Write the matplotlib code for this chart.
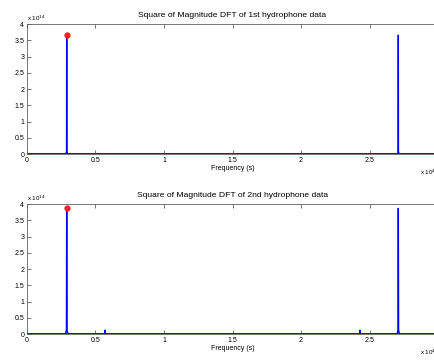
import matplotlib
matplotlib.use("Agg")
from matplotlib import pyplot as plt

plt.rcParams['font.family'] = ['Liberation Sans', 'DejaVu Sans']

# frequency axis in units of 1e4, magnitude in units of 1e14
freq1 = [0.0, 0.28, 0.287, 0.289, 0.290, 0.291, 0.293, 0.30, 0.6, 1.2, 1.8, 2.4,
         2.70, 2.707, 2.709, 2.710, 2.711, 2.713, 2.72, 2.99]
mag1 = [0.0, 0.0, 0.04, 0.08, 3.66, 0.08, 0.04, 0.0, 0.0, 0.0, 0.0, 0.0,
        0.0, 0.04, 0.08, 3.66, 0.08, 0.04, 0.0, 0.0]
peak1 = (0.290, 3.66)

freq2 = [0.0, 0.28, 0.286, 0.288, 0.290, 0.292, 0.294, 0.30, 0.567, 0.570, 0.573,
         0.9, 1.5, 2.1, 2.427, 2.430, 2.433,
         2.70, 2.706, 2.708, 2.710, 2.712, 2.714, 2.72, 2.99]
mag2 = [0.0, 0.0, 0.08, 0.15, 3.87, 0.15, 0.08, 0.0, 0.0, 0.12, 0.0,
        0.0, 0.0, 0.0, 0.0, 0.12, 0.0,
        0.0, 0.08, 0.15, 3.87, 0.15, 0.08, 0.0, 0.0]
peak2 = (0.290, 3.87)

titles = ['Square of Magnitude DFT of 1st hydrophone data',
          'Square of Magnitude DFT of 2nd hydrophone data']
xticks = [0, 0.5, 1, 1.5, 2, 2.5]
xticklabels = ['0', '0.5', '1', '1.5', '2', '2.5']
yticks = [0, 0.5, 1, 1.5, 2, 2.5, 3, 3.5, 4]
yticklabels = ['0', '0.5', '1', '1.5', '2', '2.5', '3', '3.5', '4']

fig = plt.figure(figsize=(4.35, 3.6), dpi=100)
ax_grey = '#606060'

positions = [[0.062, 0.572, 0.945, 0.361], [0.062, 0.072, 0.945, 0.361]]
datasets = [(freq1, mag1, peak1), (freq2, mag2, peak2)]

for pos, (f, m, pk), title in zip(positions, datasets, titles):
    ax = fig.add_axes(pos)
    ax.plot(f, m, color='#0000ff', lw=1.0)
    ax.axhline(0.0, color='#1f1fcc', lw=2.0, zorder=1)
    ax.plot([pk[0]], [pk[1]], 'o', color='#ff2020', ms=3.5, zorder=5)
    ax.set_xlim(0, 3)
    ax.set_ylim(0, 4)
    ax.set_xticks(xticks)
    ax.set_xticklabels(xticklabels)
    ax.set_yticks(yticks)
    ax.set_yticklabels(yticklabels)
    ax.tick_params(direction='in', length=3, width=0.6, colors=ax_grey,
                   labelsize=5, labelcolor='black', top=True, right=True, pad=2)
    for sp in ax.spines.values():
        sp.set_color(ax_grey)
        sp.set_linewidth(0.6)
    ax.set_title(title, fontsize=6.1, pad=5)
    ax.set_xlabel('Frequency (s)', fontsize=5, labelpad=1)
    # exponent labels like matlab
    ax.text(0.0, 1.01, r'x 10$^{14}$', transform=ax.transAxes, fontsize=4.5,
            ha='left', va='bottom')
    ax.text(0.955, -0.105, r'x 10$^{4}$', transform=ax.transAxes, fontsize=4.5,
            ha='left', va='top')

fig.savefig('out.png', dpi=100)
